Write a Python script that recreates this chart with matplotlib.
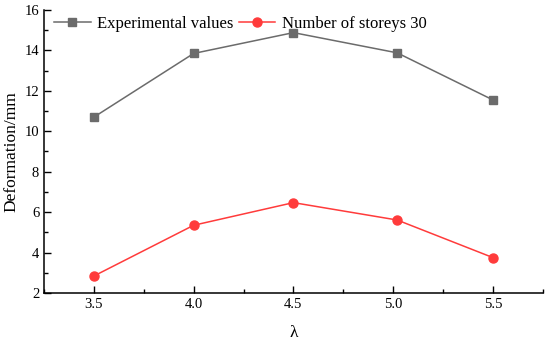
import matplotlib
matplotlib.use("Agg")
import matplotlib.pyplot as plt
from matplotlib.ticker import MultipleLocator

plt.rcParams['font.family'] = ['Liberation Serif', 'DejaVu Serif']

lam = [3.5, 4.0, 4.5, 5.02, 5.5]
experimental = [10.7, 13.85, 14.88, 13.88, 11.55]
storeys30 = [2.84, 5.35, 6.47, 5.61, 3.75]
xticks = [3.5, 4.0, 4.5, 5.0, 5.5]
yticks = [2, 4, 6, 8, 10, 12, 14, 16]

fig = plt.figure(figsize=(5.5, 3.42), dpi=100)
ax = fig.add_axes([0.08, 0.1433, 0.907, 0.8275])

ax.plot(lam, experimental, color='#6b6b6b', marker='s', markersize=6, lw=1.1,
        label='Experimental values')
ax.plot(lam, storeys30, color='#ff3b3b', marker='o', markersize=6.5, lw=1.1,
        label='Number of storeys 30')

ax.set_xlim(3.25, 5.75)
ax.set_ylim(2, 16)
ax.set_xticks(xticks)
ax.set_xticklabels([f'{v:.1f}' for v in xticks])
ax.set_yticks(yticks)
ax.xaxis.set_minor_locator(MultipleLocator(0.25))
ax.yaxis.set_minor_locator(MultipleLocator(1))
ax.tick_params(which='major', direction='in', length=5, width=1, labelsize=10.5)
ax.tick_params(which='minor', direction='in', length=3, width=1)
ax.spines['top'].set_visible(False)
ax.spines['right'].set_visible(False)
for s in ('left', 'bottom'):
    ax.spines[s].set_linewidth(1.1)

ax.set_xlabel('λ', fontsize=12.5, labelpad=10)
ax.set_ylabel('Deformation/mm', fontsize=12.5, labelpad=4)

ax.legend(loc='upper left', ncol=2, frameon=False, fontsize=12,
          bbox_to_anchor=(0.0, 1.015), handlelength=2.2, handletextpad=0.4,
          columnspacing=0.3, borderaxespad=0.2)

fig.savefig('out.png', dpi=100)
